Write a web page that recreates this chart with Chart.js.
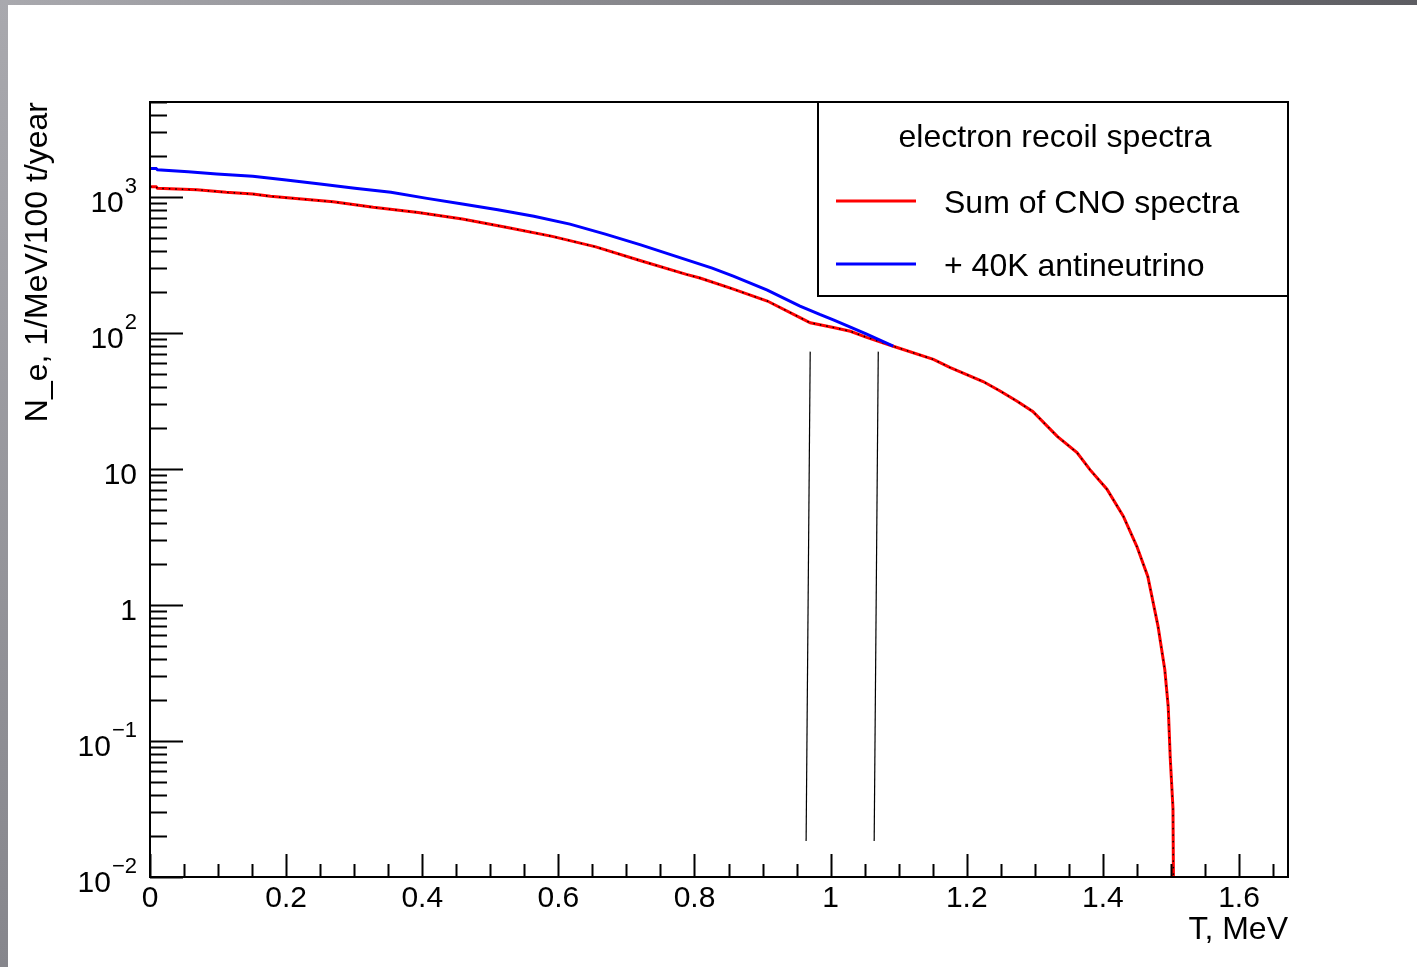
<!DOCTYPE html>
<html>
<head>
<meta charset="utf-8">
<title>electron recoil spectra</title>
<script src="https://cdn.jsdelivr.net/npm/chart.js@4.4.1/dist/chart.umd.min.js"></script>
<style>
  html, body { margin: 0; padding: 0; background: #fff; }
  body { width: 1417px; height: 967px; position: relative; overflow: hidden; }
  #topband { position: absolute; left: 0; top: 0; width: 1417px; height: 5px; background: linear-gradient(to right, #a9a9ae, #5d5d62); }
  #leftband { position: absolute; left: 0; top: 0; width: 8px; height: 967px; background: linear-gradient(to bottom, #a9a9ae, #86868c); }
  #spectrum { position: absolute; left: 0; top: 0; }
</style>
</head>
<body>
<div id="topband"></div>
<div id="leftband"></div>
<canvas id="spectrum" width="1417" height="967"></canvas>
<script>
const FONT = "'Liberation Sans', Arial, Helvetica, sans-serif";

// sum of CNO spectra: recoil energy T (MeV) and N_e (1/MeV/100 t/year)
const energyCNO = [0, 0.009, 0.011, 0.069, 0.112, 0.151, 0.177, 0.210, 0.269, 0.328, 0.394, 0.459,
  0.525, 0.591, 0.655, 0.721, 0.788, 0.808, 0.855, 0.907, 0.955, 0.970, 1.004, 1.029, 1.053, 1.092,
  1.151, 1.175, 1.224, 1.249, 1.274, 1.297, 1.333, 1.362, 1.381, 1.406, 1.430, 1.450, 1.466, 1.481,
  1.491, 1.496, 1.499, 1.503, 1.505];
const countsCNO = [1190, 1190, 1159, 1132, 1083, 1052, 1012, 978, 923, 840, 771, 689,
  598, 514, 430, 340, 270, 254, 212, 172, 130, 119, 110, 103, 93, 80,
  64, 56, 44, 37.5, 31.5, 26.5, 17.4, 13.2, 9.9, 7.1, 4.5, 2.69, 1.62, 0.70,
  0.334, 0.179, 0.075, 0.032, 0.001];

// CNO + 40K antineutrino
const energyK40 = [0, 0.009, 0.011, 0.056, 0.098, 0.151, 0.197, 0.250, 0.301, 0.354, 0.407, 0.459,
  0.511, 0.564, 0.617, 0.669, 0.721, 0.774, 0.826, 0.857, 0.907, 0.955, 0.984, 1.004, 1.023, 1.053, 1.092];
const countsK40 = [1625, 1625, 1588, 1535, 1476, 1420, 1340, 1247, 1159, 1083, 978, 888,
  806, 722, 632, 534, 445, 365, 300, 262, 207, 158, 137, 125, 114, 98, 80];

// two marker lines near the spectrum edges
const cutLeftT = [0.970, 0.964];
const cutLeftN = [73, 0.0184];
const cutRightT = [1.070, 1.064];
const cutRightN = [73, 0.0184];

const xTicks = [0, 0.2, 0.4, 0.6, 0.8, 1, 1.2, 1.4, 1.6];
const xTickLabels = ['0', '0.2', '0.4', '0.6', '0.8', '1', '1.2', '1.4', '1.6'];
const yTicks = [0.01, 0.1, 1, 10, 100, 1000];
const yTickBase = ['10', '10', '1', '10', '10', '10'];
const yTickExp = ['\u22122', '\u22121', '', '', '2', '3'];

const legendTitle = 'electron recoil spectra';

function points(xs, ys) {
  return xs.map((x, i) => ({ x: x, y: ys[i] }));
}

// frame, inward ticks, y labels with exponents, boxed legend
const rootStyle = {
  id: 'rootStyle',
  afterDraw(chart) {
    const ctx = chart.ctx;
    const a = chart.chartArea;
    const xs = chart.scales.x, ys = chart.scales.y;
    ctx.save();
    ctx.strokeStyle = '#000';
    ctx.lineWidth = 2;
    ctx.strokeRect(a.left, a.top, a.right - a.left, a.bottom - a.top);

    ctx.beginPath();
    for (let k = 0; k * 0.05 <= xs.max + 1e-9; k++) {
      const px = Math.round(xs.getPixelForValue(k * 0.05)) + 0.5;
      const len = k % 4 === 0 ? 23 : 13;
      ctx.moveTo(px, a.bottom);
      ctx.lineTo(px, a.bottom - len);
    }
    for (let e = -2; e <= 3; e++) {
      for (let m = 1; m <= 9; m++) {
        const v = m * Math.pow(10, e);
        if (v > ys.max) break;
        const py = Math.round(ys.getPixelForValue(v)) + 0.5;
        const len = m === 1 ? 33 : 17;
        ctx.moveTo(a.left, py);
        ctx.lineTo(a.left + len, py);
      }
    }
    ctx.stroke();

    ctx.fillStyle = '#000';
    ctx.textBaseline = 'alphabetic';
    yTicks.forEach((v, i) => {
      const py = ys.getPixelForValue(v);
      ctx.font = '22px ' + FONT;
      const ew = yTickExp[i] ? ctx.measureText(yTickExp[i]).width + 1 : 0;
      const right = a.left - 13;
      if (yTickExp[i]) {
        ctx.textAlign = 'left';
        ctx.fillText(yTickExp[i], right - ew + 1, py - 4);
      }
      ctx.font = '30px ' + FONT;
      ctx.textAlign = 'right';
      ctx.fillText(yTickBase[i], right - ew, py + 15);
    });

    const bx = a.left + 668, by = a.top, bw = a.right - bx, bh = 194;
    ctx.lineWidth = 2;
    ctx.strokeRect(bx, by, bw, bh);
    ctx.font = '32px ' + FONT;
    ctx.textBaseline = 'middle';
    ctx.textAlign = 'center';
    ctx.fillText(legendTitle, bx + 237, by + 36);
    ctx.textAlign = 'left';
    [0, 1].forEach((di, j) => {
      const ds = chart.data.datasets[di];
      const ly = by + 99 + j * 63;
      ctx.strokeStyle = ds.borderColor;
      ctx.lineWidth = 3;
      ctx.beginPath();
      ctx.moveTo(bx + 18, ly);
      ctx.lineTo(bx + 98, ly);
      ctx.stroke();
      ctx.fillText(ds.label, bx + 126, ly + 3);
    });
    ctx.restore();
  }
};

new Chart(document.getElementById('spectrum'), {
  type: 'line',
  data: {
    datasets: [
      {
        label: 'Sum of CNO spectra',
        data: points(energyCNO, countsCNO),
        borderColor: '#ff0000',
        borderWidth: 3,
        pointRadius: 0,
        tension: 0,
        order: 3
      },
      {
        label: '+ 40K antineutrino',
        data: points(energyK40, countsK40),
        borderColor: '#0000ff',
        borderWidth: 3,
        pointRadius: 0,
        tension: 0,
        order: 1
      },
      {
        label: 'CNO bin markers',
        data: points(energyCNO, countsCNO),
        borderColor: '#000',
        borderWidth: 1.4,
        borderDash: [1.5, 5],
        pointRadius: 0,
        tension: 0,
        order: 2
      },
      {
        label: 'cut left',
        data: points(cutLeftT, cutLeftN),
        borderColor: '#000',
        borderWidth: 1.2,
        pointRadius: 0,
        order: 0
      },
      {
        label: 'cut right',
        data: points(cutRightT, cutRightN),
        borderColor: '#000',
        borderWidth: 1.2,
        pointRadius: 0,
        order: 0
      }
    ]
  },
  options: {
    responsive: false,
    animation: false,
    layout: { padding: { top: 102, right: 129, bottom: 0, left: 0 } },
    plugins: {
      legend: { display: false },
      tooltip: { enabled: false }
    },
    scales: {
      x: {
        type: 'linear',
        min: 0,
        max: 1.672,
        afterBuildTicks: (s) => { s.ticks = xTicks.map(v => ({ value: v })); },
        afterFit: (s) => { s.height = 90; },
        grid: { display: false, drawTicks: false },
        border: { display: false },
        ticks: {
          padding: 4,
          maxRotation: 0,
          autoSkip: false,
          color: '#000',
          font: { family: FONT, size: 30 },
          callback: (v, i) => xTickLabels[i]
        },
        title: {
          display: true,
          text: 'T, MeV',
          align: 'end',
          color: '#000',
          font: { family: FONT, size: 32 },
          padding: { top: 0, bottom: 18 }
        }
      },
      y: {
        type: 'logarithmic',
        min: 0.01,
        max: 5000,
        afterBuildTicks: (s) => { s.ticks = yTicks.map(v => ({ value: v })); },
        afterFit: (s) => { s.width = 150; },
        grid: { display: false, drawTicks: false },
        border: { display: false },
        ticks: { display: false },
        title: {
          display: true,
          text: 'N_e, 1/MeV/100 t/year',
          align: 'end',
          color: '#000',
          font: { family: FONT, size: 32 },
          padding: { top: 19, bottom: 0 }
        }
      }
    }
  },
  plugins: [rootStyle]
});
</script>
</body>
</html>
